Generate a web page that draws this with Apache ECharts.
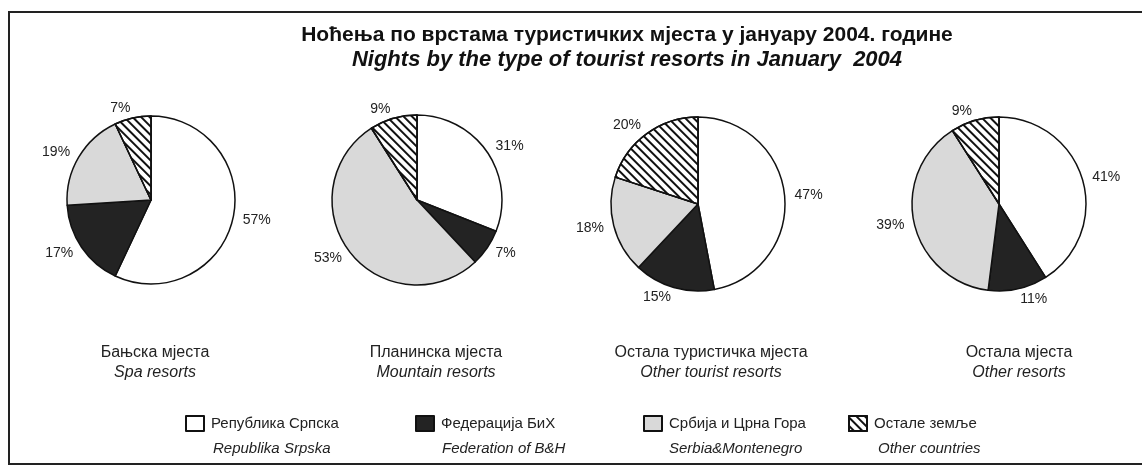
<!DOCTYPE html>
<html>
<head>
<meta charset="utf-8">
<script src="https://cdn.jsdelivr.net/npm/echarts@6/dist/echarts.min.js"></script>
<style>
html,body{margin:0;padding:0;background:#fff;}
#main{width:1142px;height:466px;}
</style>
</head>
<body>
<div id="main"></div>
<script>
const titleSr = 'Ноћења по врстама туристичких мјеста у јануару 2004. године';
const titleEn = 'Nights by the type of tourist resorts in January  2004';
const categories = ['Република Српска', 'Федерација БиХ', 'Србија и Црна Гора', 'Остале земље'];
const categoriesEn = ['Republika Srpska', 'Federation of B&H', 'Serbia&Montenegro', 'Other countries'];
const resorts = ['Бањска мјеста', 'Планинска мјеста', 'Остала туристичка мјеста', 'Остала мјеста'];
const resortsEn = ['Spa resorts', 'Mountain resorts', 'Other tourist resorts', 'Other resorts'];
const spaResorts = [57, 17, 19, 7];
const mountainResorts = [31, 7, 53, 9];
const otherTouristResorts = [47, 15, 18, 20];
const otherResorts = [41, 11, 39, 9];
const allValues = [spaResorts, mountainResorts, otherTouristResorts, otherResorts];

// layout (not data)
const pieCenters = [[151, 200], [417, 200], [698, 204], [999, 204]];
const pieRadii = [84, 85, 87, 87];
const resortTitleX = [150, 431, 706, 1014];
const legendX = [185, 415, 643, 848];
const legendTextX = [213, 442, 669, 878];

const FONT = '"Liberation Sans", Arial, sans-serif';

const sliceStyles = [
  { color: '#ffffff' },
  { color: '#232323' },
  { color: '#d9d9d9' },
  { color: '#ffffff', decal: { symbol: 'rect', symbolSize: 1, color: '#111', dashArrayX: [1, 0], dashArrayY: [1.2, 4], rotation: Math.PI / 4 } }
];

const series = allValues.map((vals, i) => ({
  type: 'pie',
  center: pieCenters[i],
  radius: [0, pieRadii[i]],
  startAngle: 90,
  clockwise: true,
  animation: false,
  silent: true,
  label: { show: true, position: 'outside', formatter: '{c}%', fontFamily: FONT, fontSize: 14, color: '#222', distanceToLabelLine: 0 },
  labelLine: { show: false, length: 10, length2: 0 },
  itemStyle: { borderColor: '#111', borderWidth: 1.5 },
  emphasis: { disabled: true },
  data: vals.map((v, j) => ({ name: categories[j], value: v, itemStyle: sliceStyles[j] }))
}));

const titles = [
  {
    text: titleSr, subtext: titleEn, left: 622, top: 20, textAlign: 'center', itemGap: 3,
    textStyle: { fontFamily: FONT, fontSize: 21, fontWeight: 'bold', color: '#111' },
    subtextStyle: { fontFamily: FONT, fontSize: 22, fontWeight: 'bold', fontStyle: 'italic', color: '#111' }
  }
].concat(resorts.map((r, i) => ({
  text: r, subtext: resortsEn[i], left: resortTitleX[i], top: 340, textAlign: 'center', itemGap: 4,
  textStyle: { fontFamily: FONT, fontSize: 16, fontWeight: 'normal', color: '#222' },
  subtextStyle: { fontFamily: FONT, fontSize: 16, fontStyle: 'italic', color: '#222' }
})));

const legends = categories.map((c, i) => ({
  data: [c], left: legendX[i], top: 415, icon: 'rect', itemWidth: 18, itemHeight: 15, itemGap: 0,
  selectedMode: false, padding: 0,
  textStyle: { fontFamily: FONT, fontSize: 15, color: '#222', padding: [0, 0, 0, 2] }
}));

const graphics = [
  { type: 'rect', shape: { x: 9, y: 12, width: 1160, height: 452 }, style: { fill: 'none', stroke: '#222', lineWidth: 2 }, silent: true }
].concat(categoriesEn.map((t, i) => ({
  type: 'text', left: legendTextX[i], top: 441,
  style: { text: t, font: 'italic 15px ' + FONT, fill: '#222' }, silent: true
})));

const chart = echarts.init(document.getElementById('main'), null, { renderer: 'canvas' });
chart.setOption({
  backgroundColor: '#ffffff',
  animation: false,
  title: titles,
  legend: legends,
  graphic: graphics,
  series: series
});
</script>
</body>
</html>
